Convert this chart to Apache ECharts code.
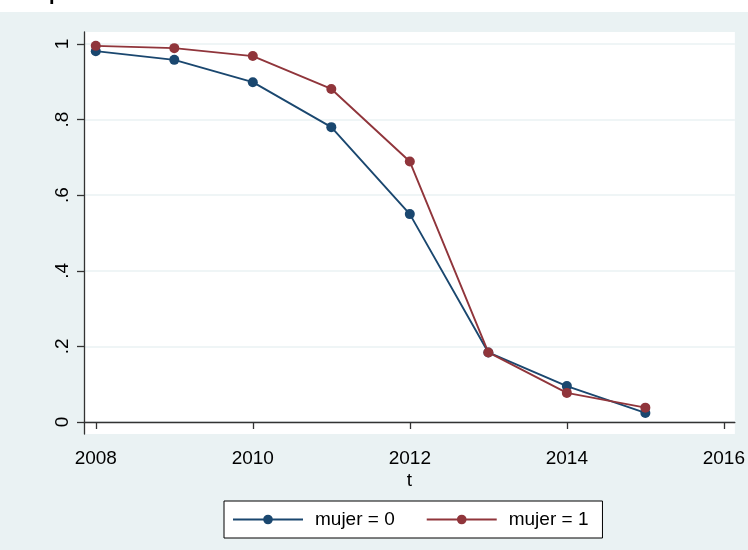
<!DOCTYPE html>
<html>
<head>
<meta charset="utf-8">
<script src="https://cdn.jsdelivr.net/npm/echarts@6/dist/echarts.min.js"></script>
<style>
  html, body { margin: 0; padding: 0; background: #eaf2f3; }
  #chart { width: 748px; height: 550px; }
</style>
</head>
<body>
<div id="chart"></div>
<script>
// values
const years = [2008, 2009, 2010, 2011, 2012, 2013, 2014, 2015];
const mujer0 = [0.981, 0.958, 0.899, 0.780, 0.550, 0.184, 0.095, 0.024];
const mujer1 = [0.995, 0.989, 0.968, 0.881, 0.689, 0.184, 0.077, 0.038];
const seriesNames = ['mujer = 0', 'mujer = 1'];
const xTicks = [2008, 2010, 2012, 2014, 2016];
const yTicks = [0, 0.2, 0.4, 0.6, 0.8, 1];
const yTickLabels = ['0', '.2', '.4', '.6', '.8', '1'];

const navy = '#1a476f';
const maroon = '#90353b';
const font = '"Liberation Sans", Arial, sans-serif';

const chart = echarts.init(document.getElementById('chart'), null, { renderer: 'canvas' });

const makeSeries = (name, values, color) => ({
  name: name,
  type: 'line',
  data: years.map((y, i) => [y, values[i]]),
  symbol: 'circle',
  symbolSize: 10,
  showSymbol: true,
  itemStyle: { color: color },
  lineStyle: { color: color, width: 1.9 },
  animation: false
});

chart.setOption({
  backgroundColor: '#eaf2f3',
  graphic: [
    { type: 'rect', left: 0, top: 0, shape: { width: 748, height: 12 }, style: { fill: '#fff' } },
    // title is cropped off in the reference, only the tail of the "p" shows
    { type: 'text', x: 49, y: 4, style: { text: 'p', font: 'bold 20px ' + font, fill: '#000', verticalAlign: 'bottom' } }
  ],
  grid: {
    show: true,
    left: 84,
    right: 10,
    top: 32,
    bottom: 116,
    backgroundColor: '#fff',
    borderWidth: 0
  },
  legend: {
    data: seriesNames,
    left: 224,
    top: 501,
    padding: [9, 14, 9, 8],
    itemGap: 31,
    itemWidth: 70,
    itemHeight: 12,
    backgroundColor: '#fff',
    borderColor: '#000',
    borderWidth: 1,
    borderRadius: 0,
    textStyle: { fontFamily: font, fontSize: 19, color: '#000', padding: [0, 0, 0, 7] }
  },
  xAxis: {
    type: 'value',
    min: 2007.85,
    max: 2016.14,
    name: 't',
    nameLocation: 'middle',
    nameGap: 37,
    nameMoveOverlap: false,
    nameTextStyle: { fontFamily: font, fontSize: 19, color: '#000' },
    axisLine: { show: true, lineStyle: { color: '#333', width: 1.3 } },
    axisTick: { show: true, length: 7, customValues: xTicks, lineStyle: { color: '#333', width: 1.3 } },
    axisLabel: {
      customValues: xTicks,
      margin: 15,
      fontFamily: font,
      fontSize: 19,
      color: '#000',
      formatter: v => String(v)
    },
    splitLine: { show: false }
  },
  yAxis: {
    type: 'value',
    min: -0.0317,
    max: 1.0317,
    axisLine: { show: true, lineStyle: { color: '#333', width: 1.3 } },
    axisTick: { show: true, length: 7, customValues: yTicks, lineStyle: { color: '#333', width: 1.3 } },
    axisLabel: {
      customValues: yTicks,
      rotate: 90,
      margin: 12,
      fontFamily: font,
      fontSize: 19,
      color: '#000',
      formatter: v => yTickLabels[yTicks.indexOf(v)]
    },
    splitLine: { show: true, lineStyle: { color: '#eaf2f3', width: 1.5 } }
  },
  series: [
    makeSeries(seriesNames[0], mujer0, navy),
    makeSeries(seriesNames[1], mujer1, maroon)
  ]
});
</script>
</body>
</html>
